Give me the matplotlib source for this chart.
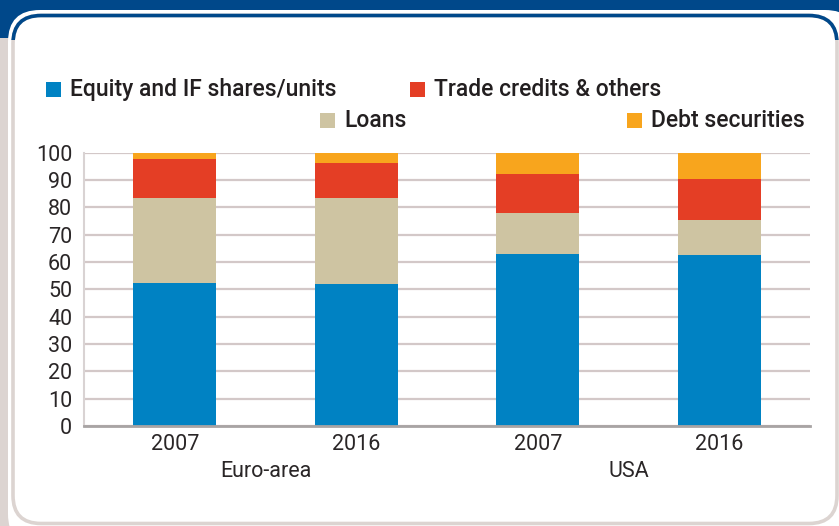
import numpy as np
import matplotlib.pyplot as plt
from matplotlib.patches import FancyBboxPatch, Rectangle

# Data (% of total)
years = ['2007', '2016', '2007', '2016']
groups = ['Euro-area', 'USA']
series = ['Equity and IF shares/units', 'Loans', 'Trade credits & others', 'Debt securities']
equity = [52.4, 52.1, 62.9, 62.7]
loans = [31.1, 31.3, 15.0, 12.7]
trade = [14.2, 12.7, 14.4, 14.9]
debt = [2.3, 3.9, 7.7, 9.7]
colors = ['#0082C3', '#CEC4A2', '#E43E25', '#F8A51D']

W, H = 839, 526
fig = plt.figure(figsize=(W / 100, H / 100), dpi=100)
fig.patch.set_facecolor('#DCD4D1')

# background frame drawn in pixel coordinates
bg = fig.add_axes([0, 0, 1, 1], zorder=-1)
bg.set_xlim(0, W)
bg.set_ylim(H, 0)
bg.axis('off')
bg.add_patch(Rectangle((0, 0), W, 38, color='#00488A', lw=0))
bg.add_patch(FancyBboxPatch((8, 10), W + 10, H + 10,
                            boxstyle='round,pad=0,rounding_size=32',
                            fc='white', ec='none'))
inner = dict(boxstyle='round,pad=0,rounding_size=28', fc='none')
bg.add_patch(FancyBboxPatch((13, 15.5), W - 15, H - 18, ec='#DCD4D1', lw=2.6, **inner))
top_line = FancyBboxPatch((13, 15.5), W - 15, H - 18, ec='#00488A', lw=2.6, **inner)
bg.add_patch(top_line)
clip = Rectangle((0, 0), W, 40, transform=bg.transData)
top_line.set_clip_path(clip)

# legend, laid out in two staggered rows like the original
leg_font = dict(family=['Roboto', 'DejaVu Sans'], fontsize=16.5, fontweight='medium',
                color='#231F20', va='center', ha='left')
leg_pos = {'Equity and IF shares/units': (46, 89.5),
           'Trade credits & others': (410, 89.5),
           'Loans': (320, 120.5),
           'Debt securities': (627, 120.5)}
for name, c in zip(series, colors):
    x0, y0 = leg_pos[name]
    bg.add_patch(Rectangle((x0, y0 - 7.5), 15, 15, color=c, lw=0))
    bg.text(x0 + 24, y0, name, **leg_font)

# main chart
ax = fig.add_axes([84 / W, (H - 426) / H, 726 / W, 273.3 / H])
ax.set_facecolor('none')
x = np.arange(len(years))
bottom = np.zeros(len(years))
for vals, c in zip([equity, loans, trade, debt], colors):
    ax.bar(x, vals, width=0.456, bottom=bottom, color=c, zorder=3)
    bottom += np.array(vals)

ax.set_xlim(-0.5, 3.5)
ax.set_ylim(0, 100)
ax.set_yticks(np.arange(0, 101, 10))
ax.yaxis.grid(True, color='#D3C8C8', lw=1.6, zorder=0)
for s in ['top', 'right']:
    ax.spines[s].set_visible(False)
ax.spines['left'].set_color('#D9D3D3')
ax.spines['left'].set_linewidth(1.5)
ax.spines['bottom'].set_color('#A8A4A4')
ax.spines['bottom'].set_linewidth(2)
ax.spines['bottom'].set_zorder(4)

tick_family = ['Roboto', 'DejaVu Sans']
txt_color = '#2A2627'
ax.set_xticks(x)
ax.set_xticklabels(years)
ax.tick_params(length=0, labelsize=15.5, labelcolor=txt_color)
ax.tick_params(axis='y', pad=8.5)
ax.tick_params(axis='x', pad=6)
for lab in ax.get_xticklabels() + ax.get_yticklabels():
    lab.set_family(tick_family)

for i, g in enumerate(groups):
    ax.text(x[2 * i:2 * i + 2].mean(), -0.165, g, transform=ax.get_xaxis_transform(),
            ha='center', va='center', fontsize=15.5, color=txt_color, family=tick_family)

fig.savefig('out.png', dpi=100, facecolor=fig.get_facecolor())
